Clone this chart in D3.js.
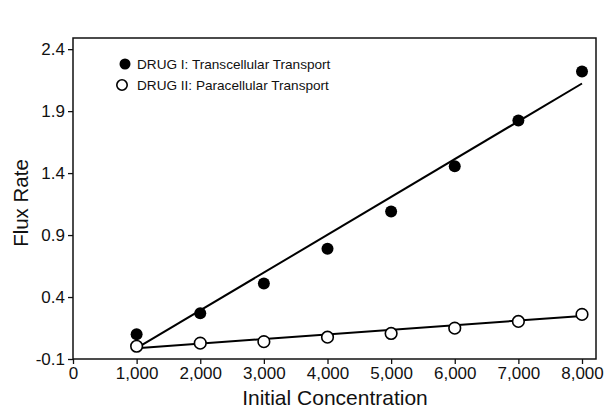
<!DOCTYPE html>
<html><head><meta charset="utf-8">
<script src="https://cdn.jsdelivr.net/npm/d3@7/dist/d3.min.js"></script>
<style>
body{margin:0;background:#fff;}
svg{display:block;font-family:"Liberation Sans",Arial,sans-serif;}
</style></head>
<body><svg id="c" width="608" height="409"></svg>
<script>
const concentrations = [1000, 2000, 3000, 4000, 5000, 6000, 7000, 8000];
const drug1Flux = [0.10, 0.27, 0.51, 0.79, 1.09, 1.455, 1.825, 2.22];
const drug2Flux = [0.003, 0.028, 0.04, 0.076, 0.106, 0.149, 0.203, 0.26];
const drug1Fit = [[1000, -0.013], [8000, 2.123]];
const drug2Fit = [[1000, -0.013], [8000, 0.247]];
const xTicks = [0, 1000, 2000, 3000, 4000, 5000, 6000, 7000, 8000];
const yTicks = [-0.1, 0.4, 0.9, 1.4, 1.9, 2.4];
const seriesNames = ["DRUG I: Transcellular Transport", "DRUG II: Paracellular Transport"];
const xTitle = "Initial Concentration";
const yTitle = "Flux Rate";

const svg = d3.select("#c");
const L = 73, R = 596, T = 38, B = 359;
const x = d3.scaleLinear().domain([0, 8220]).range([L, R]);
const y = d3.scaleLinear().domain([-0.1, 2.49]).range([B, T]);
const loc = d3.formatLocale({decimal: ".", thousands: ",", grouping: [3], currency: ["", ""], minus: "-"});

svg.append("rect").attr("width", 608).attr("height", 409).attr("fill", "#fff");

// axes
const xa = svg.append("g").attr("transform", `translate(0,${B})`)
  .call(d3.axisBottom(x).tickValues(xTicks).tickFormat(loc.format(",")).tickSize(5).tickPadding(3));
const ya = svg.append("g").attr("transform", `translate(${L},0)`)
  .call(d3.axisLeft(y).tickValues(yTicks).tickFormat(loc.format(".1f")).tickSize(5).tickPadding(3));
[xa, ya].forEach(g => {
  g.select(".domain").remove();
  g.selectAll("line").attr("stroke", "#111").attr("stroke-width", 1.3);
  g.selectAll("text").attr("font-size", 17).attr("fill", "#111")
    .attr("font-family", '"Liberation Sans",Arial,sans-serif');
});

// frame
svg.append("rect").attr("x", L).attr("y", T).attr("width", R - L).attr("height", B - T)
  .attr("fill", "none").attr("stroke", "#111").attr("stroke-width", 1.5);

// titles
svg.append("text").attr("x", (L + R) / 2 + 0.5).attr("y", 405)
  .attr("text-anchor", "middle").attr("font-size", 21).attr("fill", "#111").text(xTitle);
svg.append("text").attr("transform", "translate(28,203) rotate(-90)")
  .attr("text-anchor", "middle").attr("font-size", 20.5).attr("fill", "#111").text(yTitle);

// fit lines
const line = d3.line().x(d => x(d[0])).y(d => y(d[1]));
[drug1Fit, drug2Fit].forEach(f => {
  svg.append("path").attr("d", line(f)).attr("fill", "none")
    .attr("stroke", "#000").attr("stroke-width", 2);
});

// points
svg.append("g").selectAll("circle").data(concentrations).join("circle")
  .attr("cx", d => x(d)).attr("cy", (d, i) => y(drug2Flux[i])).attr("r", 5.8)
  .attr("fill", "#fff").attr("stroke", "#000").attr("stroke-width", 1.6);
svg.append("g").selectAll("circle").data(concentrations).join("circle")
  .attr("cx", d => x(d)).attr("cy", (d, i) => y(drug1Flux[i])).attr("r", 6)
  .attr("fill", "#000");

// legend
const lg = svg.append("g");
lg.append("circle").attr("cx", 125).attr("cy", 64).attr("r", 5.5).attr("fill", "#000");
lg.append("circle").attr("cx", 122).attr("cy", 85).attr("r", 5.2).attr("fill", "#fff")
  .attr("stroke", "#000").attr("stroke-width", 1.6);
seriesNames.forEach((s, i) => {
  lg.append("text").attr("x", 137).attr("y", 64 + i * 21).attr("dy", "0.36em")
    .attr("font-size", 13.6).attr("fill", "#111").text(s);
});
</script></body></html>
